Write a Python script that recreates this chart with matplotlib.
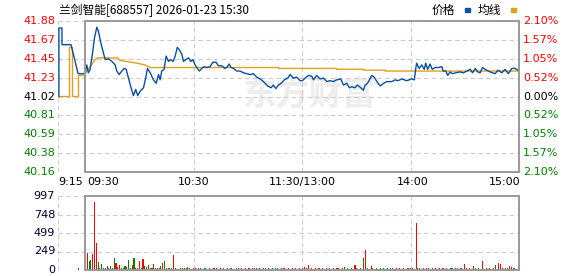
import matplotlib
matplotlib.use("Agg")
import matplotlib.pyplot as plt
import matplotlib.transforms as mtransforms
from matplotlib.patches import Rectangle
import numpy as np

# region Source Data
title = "兰剑智能[688557] 2026-01-23 15:30"
prev_close = 41.02

price_labels = ["41.88", "41.67", "41.45", "41.23", "41.02", "40.81", "40.59", "40.38", "40.16"]
pct_labels = ["2.10%", "1.57%", "1.05%", "0.52%", "0.00%", "0.52%", "1.05%", "1.57%", "2.10%"]
vol_labels = ["997", "748", "499", "249", "0"]

# pre-market auction (minutes relative to 09:30)
pre_t = [-14.5, -14.5, -12.8, -12.8, -7.8, -3.9, 0]
pre_price = [41.02, 41.80, 41.80, 41.61, 41.61, 41.28, 41.28]
pre_avg_t = [-14.5, -8.9, -8.9, -7.4, -7.4, -4.1, -4.1, 0]
pre_avg = [41.02, 41.02, 41.58, 41.58, 41.02, 41.02, 41.27, 41.27]

# trading session, minutes after 09:30 (11:30/13:00 = 120)
t = [0, 0.9, 1.8, 2.8, 4.0, 5.2, 6.5, 7.4, 8.7, 10.1, 11.1, 12.9, 14.8, 16.6, 17.5, 18.8,
     20.3, 21.6, 22.7, 24.0, 25.4, 26.7, 28.0, 29.1, 30.4, 32.3, 33.7, 34.5, 36.0, 37.8,
     39.3, 40.6, 41.5, 42.4, 43.7, 44.8, 46.1, 47.3, 48.7, 49.8, 51.0, 52.2, 53.5, 54.4,
     55.7, 57.2, 58.5, 59.6, 60.8, 62.1, 63.2, 64.5, 65.8, 67.3, 69.1, 70.6, 72.5, 73.7,
     75.6, 77.4, 78.7, 79.6, 80.8, 82.0, 83.9, 85.7, 87.6, 89.4, 91.3, 93.1, 95.0, 96.8,
     98.1, 99.6, 101.0, 102.9, 104.1, 105.5, 106.9, 108.4, 110.2, 112.1, 113.4, 115.2,
     117.1, 118.9, 120.2, 121.7, 123.5, 125.4, 126.3, 128.1, 130.0, 131.8, 133.7, 135.5,
     137.4, 139.2, 141.4, 142.9, 144.7, 146.2, 147.5, 149.3, 150.6, 152.5, 153.9, 154.9,
     156.2, 157.3, 158.6, 159.9, 161.4, 163.2, 165.1, 166.9, 169.7, 171.5, 172.8, 174.2,
     175.1, 177.9, 180.7, 182.1, 182.9, 183.4, 184.7, 186.2, 187.6, 188.4, 189.5, 190.8,
     192.0, 193.6, 195.4, 197.3, 198.1, 199.5, 200.6, 201.9, 203.1, 205.0, 207.4, 209.3,
     211.1, 213.0, 214.3, 215.8, 217.3, 218.5, 219.8, 221.2, 224.0, 226.8, 228.4, 230.5,
     232.3, 234.1, 236.0, 237.8, 240.0]
price = [41.28, 41.38, 41.29, 41.33, 41.50, 41.69, 41.81, 41.76, 41.63, 41.52, 41.44, 41.45,
         41.42, 41.38, 41.31, 41.27, 41.31, 41.34, 41.33, 41.23, 41.12, 41.03, 41.10, 41.03,
         41.08, 41.12, 41.25, 41.34, 41.29, 41.21, 41.17, 41.27, 41.21, 41.31, 41.33, 41.48,
         41.42, 41.44, 41.42, 41.48, 41.58, 41.55, 41.50, 41.42, 41.44, 41.46, 41.42, 41.44,
         41.38, 41.34, 41.31, 41.34, 41.36, 41.35, 41.36, 41.41, 41.41, 41.37, 41.37, 41.34,
         41.36, 41.39, 41.35, 41.34, 41.31, 41.31, 41.29, 41.28, 41.27, 41.28, 41.24, 41.22,
         41.20, 41.17, 41.14, 41.12, 41.15, 41.11, 41.15, 41.17, 41.21, 41.23, 41.27, 41.23,
         41.24, 41.20, 41.20, 41.23, 41.26, 41.25, 41.21, 41.26, 41.22, 41.23, 41.19, 41.20,
         41.19, 41.21, 41.22, 41.15, 41.17, 41.12, 41.13, 41.12, 41.15, 41.12, 41.09, 41.15,
         41.17, 41.21, 41.26, 41.24, 41.19, 41.14, 41.17, 41.19, 41.19, 41.21, 41.20, 41.21,
         41.22, 41.20, 41.22, 41.21, 41.34, 41.40, 41.34, 41.38, 41.33, 41.40, 41.33, 41.39,
         41.33, 41.35, 41.35, 41.36, 41.31, 41.31, 41.26, 41.30, 41.28, 41.29, 41.30, 41.29,
         41.31, 41.33, 41.29, 41.34, 41.30, 41.29, 41.35, 41.33, 41.30, 41.28, 41.32, 41.29,
         41.33, 41.28, 41.34, 41.34, 41.31]

avg_t = [0, 5.5, 7, 18, 19.5, 28.5, 33, 36, 107, 107, 139, 139, 154, 154, 166, 166, 240]
avg_price = [41.28, 41.44, 41.46, 41.46, 41.43, 41.40, 41.38, 41.35, 41.35, 41.34, 41.34,
             41.33, 41.33, 41.32, 41.32, 41.31, 41.31]

# volume per minute 09:30 .. 15:00, r = up, g = down
volume = [233, 121, 135, 216, 920, 368, 112, 22, 81, 25,
          25, 54, 30, 54, 22, 166, 99, 45, 67, 25,
          25, 54, 40, 135, 22, 67, 162, 30, 22, 126,
          22, 148, 54, 40, 67, 22, 22, 81, 25, 22,
          30, 54, 99, 121, 25, 25, 25, 22, 202, 22,
          18, 18, 22, 22, 25, 22, 36, 22, 18, 22,
          22, 18, 22, 22, 18, 22, 22, 18, 22, 18,
          22, 28, 22, 18, 22, 18, 22, 18, 22, 18,
          22, 18, 18, 28, 22, 18, 22, 18, 22, 18,
          22, 18, 22, 22, 22, 18, 22, 18, 30, 22,
          18, 22, 18, 22, 18, 22, 25, 18, 22, 28,
          22, 18, 22, 18, 22, 18, 22, 18, 22, 18,
          22, 36, 25, 67, 18, 22, 18, 22, 18, 22,
          18, 22, 18, 22, 18, 22, 18, 22, 18, 22,
          22, 18, 22, 36, 18, 22, 18, 22, 18, 67,
          22, 18, 22, 18, 162, 269, 22, 18, 54, 22,
          18, 22, 18, 22, 18, 22, 18, 22, 18, 22,
          22, 18, 22, 18, 22, 18, 22, 18, 22, 30,
          22, 22, 18, 637, 22, 22, 18, 22, 18, 22,
          22, 18, 22, 18, 22, 18, 22, 18, 22, 18,
          22, 18, 25, 22, 18, 22, 22, 18, 22, 18,
          81, 22, 18, 22, 18, 54, 22, 18, 22, 18,
          126, 18, 22, 18, 22, 18, 22, 67, 18, 99,
          81, 22, 18, 22, 22, 54, 40, 22, 22, 18,
          99]
vol_dir = ("rggrrrgggg" "rgrgggrrrr" "ggrggrggrr" "grgrgrgrrg" "rgrgrrggrg"
           "rgrrgrgrgr" "rgrgrgrgrg" "rgrgrgrgrg" "rgrgrgrgrg" "rgrgrgrgrg"
           "rgrgrgrgrr" "rgrgrgrgrg" "rrrrgrgrgr" "grgrgrgrgr" "rgrgrgrgrr"
           "rgrggrgrrg" "rgrgrgrgrg" "rgrgrgrgrr" "rgrrgrgrgr" "rgrgrgrgrg"
           "rgrgrgrgrg" "rgrgrrgrgr" "rgrgrgrggr" "rrgrgrrrgr" "g")
pre_vol_t = [-3.7]
pre_vol = [22]
# endregion

W, H = 578, 276
fig = plt.figure(figsize=(W / 100, H / 100), dpi=100)
fig.patch.set_facecolor("white")

ax = fig.add_axes([58 / W, 1 - 172 / H, 461 / W, 151 / H])
axv = fig.add_axes([58 / W, 1 - 270 / H, 461 / W, 74 / H])

grid_kw = dict(color="#cccccc", lw=0.8, linestyle=(0, (4, 3)), zorder=1)
frame_kw = dict(fill=False, edgecolor="#999999", lw=1.4, zorder=5, clip_on=False)
red, green, black = "#ff0000", "#008000", "#000000"

for a in (ax, axv):
    for s in a.spines.values():
        s.set_visible(False)
    a.set_xticks([])
    a.set_yticks([])
    a.set_xlim(-15, 240)

# region Price panel
ymin, ymax = 40.16, 41.88
ax.set_ylim(ymin, ymax)
levels = np.linspace(ymax, ymin, len(price_labels))
for lv in levels:
    ax.axhline(lv, **grid_kw)
for xv in (-15, 60, 120, 180):
    ax.axvline(xv, **grid_kw)
ax.add_patch(Rectangle((0, ymin), 240, ymax - ymin, **frame_kw))

# watermark
ax.text(124, 41.03, "东方财富", fontsize=24, color="#ededed", fontweight="bold",
        ha="center", va="center", family=["Noto Sans CJK SC"], zorder=0)

ax.plot(pre_avg_t, pre_avg, color="#e0a020", lw=1.0, zorder=3)
ax.plot(pre_t, pre_price, color="#0a4fa0", lw=1.0, zorder=4)
ax.plot(avg_t, avg_price, color="#e0a020", lw=1.0, zorder=3)
ax.plot(t, price, color="#0a4fa0", lw=1.0, zorder=4)

for i, (lv, lab, pl) in enumerate(zip(levels, price_labels, pct_labels)):
    c = red if i < 4 else (black if i == 4 else green)
    ax.text(-16.6, lv, lab, ha="right", va="center", fontsize=8, color=c)
    ax.text(242.3, lv, pl, ha="left", va="center", fontsize=8, color=c)

tr = mtransforms.blended_transform_factory(ax.transData, ax.transAxes)
xlab_y = -10 / 151
ax.text(-15, xlab_y, "9:15", ha="left", va="center", fontsize=8, transform=tr)
ax.text(1, xlab_y, "09:30", ha="left", va="center", fontsize=8, transform=tr)
ax.text(60, xlab_y, "10:30", ha="center", va="center", fontsize=8, transform=tr)
ax.text(120, xlab_y, "11:30/13:00", ha="center", va="center", fontsize=8, transform=tr)
ax.text(181, xlab_y, "14:00", ha="center", va="center", fontsize=8, transform=tr)
ax.text(241, xlab_y, "15:00", ha="right", va="center", fontsize=8, transform=tr)
# endregion

# region Volume panel
vmax = 997
axv.set_ylim(0, vmax)
vlevels = np.linspace(vmax, 0, len(vol_labels))
for lv in vlevels:
    axv.axhline(lv, **grid_kw)
for xv in (-15, 60, 120, 180):
    axv.axvline(xv, **grid_kw)
axv.add_patch(Rectangle((0, 0), 240, vmax, **frame_kw))

vol_x = np.linspace(1.2, 239.7, len(volume))
vol_colors = [red if d == "r" else green for d in vol_dir]
axv.bar(vol_x, volume, width=0.6, color=vol_colors, zorder=3, antialiased=False)
axv.bar(pre_vol_t, pre_vol, width=0.6, color=red, zorder=3, antialiased=False)

for lv, lab in zip(vlevels, vol_labels):
    axv.text(-16.6, lv, lab, ha="right", va="center", fontsize=8, color="#000033")
# endregion

# region Header
cjk = ["Noto Sans CJK SC", "DejaVu Sans"]
fig.text(59 / W, 1 - 10 / H, title, ha="left", va="center", fontsize=8.5, family=cjk)
fig.text(432 / W, 1 - 10 / H, "价格", ha="left", va="center", fontsize=8.5, family=cjk)
fig.patches.append(Rectangle((465 / W, 1 - 12 / H), 5 / W, 4 / H, color="#0a4fa0",
                             transform=fig.transFigure, figure=fig))
fig.text(478 / W, 1 - 10 / H, "均线", ha="left", va="center", fontsize=8.5, family=cjk)
fig.patches.append(Rectangle((511 / W, 1 - 12 / H), 5 / W, 4 / H, color="#e0a020",
                             transform=fig.transFigure, figure=fig))
# endregion

fig.savefig("out.png", dpi=100)
